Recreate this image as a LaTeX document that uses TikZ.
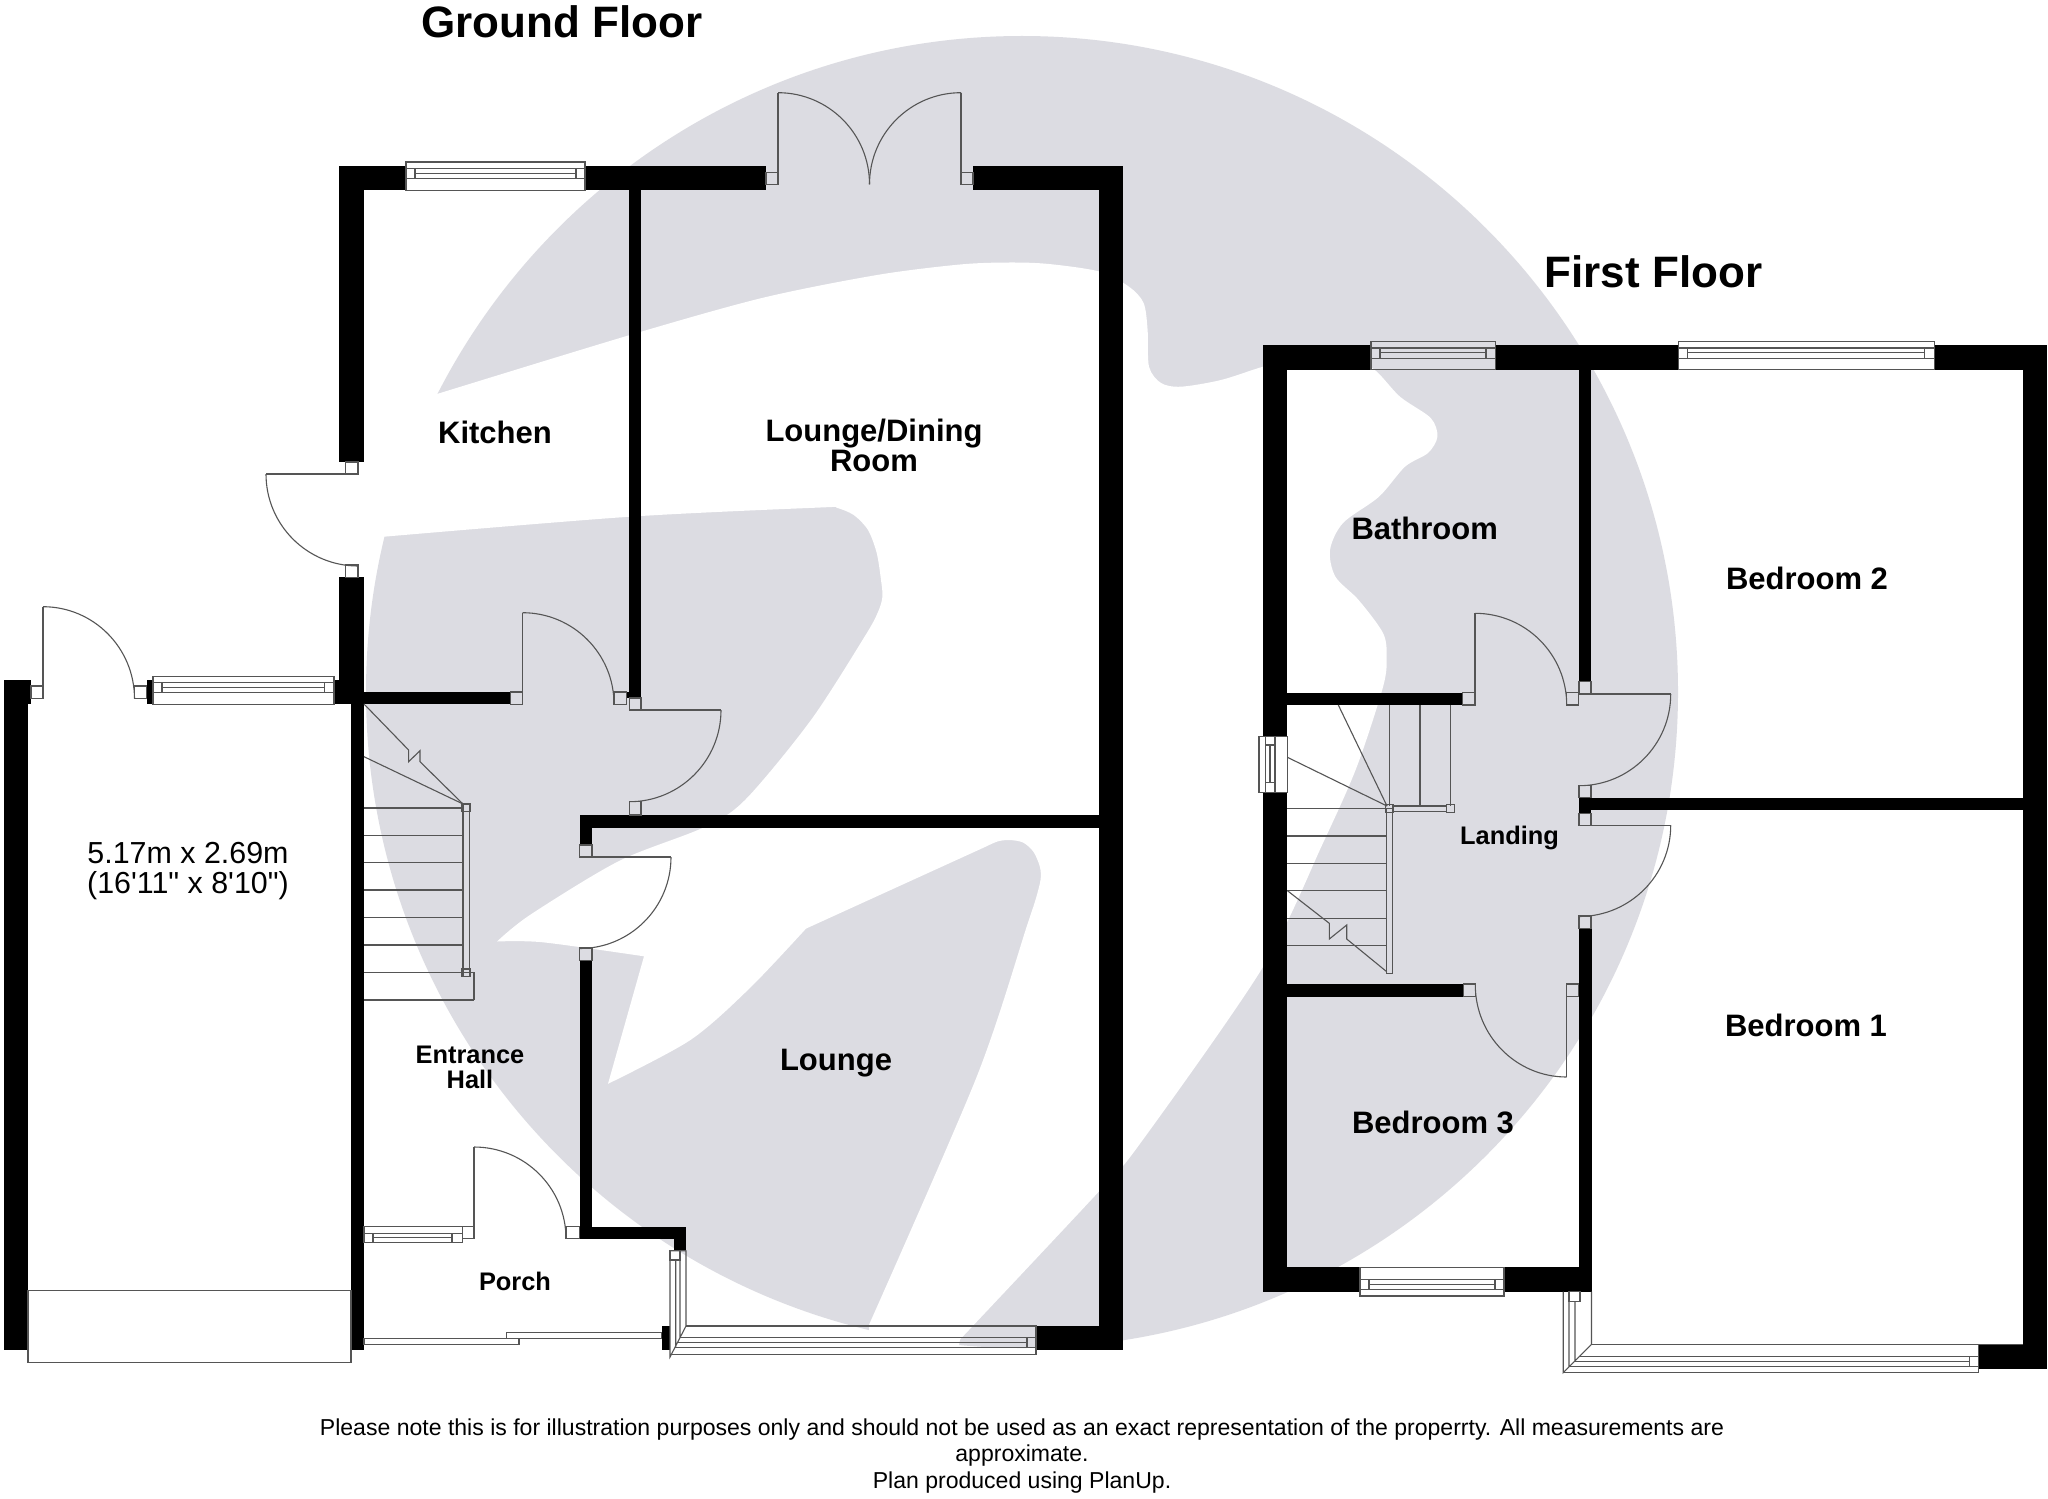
\documentclass[tikz,border=0pt]{standalone}
\usepackage{fontspec}
\setmainfont{Liberation Sans}
\newfontfamily\straightfam{Liberation Sans}[Ligatures=ResetAll]
\usetikzlibrary{calc}
\definecolor{bggray}{HTML}{DCDCE2}
\definecolor{ln}{HTML}{555555}
\tikzset{
  wall/.style={fill=black},
  thinl/.style={draw=ln,line width=0.55pt},
  lbl/.style={inner sep=0pt,align=center,text=black,font=\bfseries\fontsize{15.5}{15}\selectfont},
  lblsm/.style={inner sep=0pt,align=center,text=black,font=\bfseries\fontsize{12.7}{12.5}\selectfont},
  lblpl/.style={inner sep=0pt,align=center,text=black,font=\straightfam\fontsize{15.2}{15}\selectfont},
  title/.style={inner sep=0pt,text=black,font=\bfseries\fontsize{22}{22}\selectfont},
  foot/.style={inner sep=0pt,align=center,text=black,font=\fontsize{11.52}{13.4}\selectfont},
}
\newcommand\W[4]{\fill[wall] (#1,#2) rectangle (#3,#4);}
\newcommand\R[4]{\draw[thinl] (#1,#2) rectangle (#3,#4);}
\newcommand\Ln[4]{\draw[thinl] (#1,#2) -- (#3,#4);}
% door: A, corner C, B
\newcommand\Q[6]{\draw[thinl] (#1,#2) .. controls ($(#1,#2)!0.5523!(#3,#4)$) and ($(#5,#6)!0.5523!(#3,#4)$) .. (#5,#6);}
% horizontal window: x1 x2 ytop y1 ymid y3 ybot inset1 inset2
\newcommand\WinH[9]{\draw[thinl] (#1,#3) rectangle (#2,#7);\draw[thinl] (#1,#4) -- (#2,#4) (#1,#6) -- (#2,#6) (#8,#4) -- (#8,#6) (#9,#4) -- (#9,#6) (#8,#5) -- (#9,#5);}
\begin{document}
\begin{tikzpicture}[x=0.5pt,y=-0.5pt]
\useasboundingbox (0,0) rectangle (2048,1498);
\fill[white] (0,0) rectangle (2048,1498);
% background emblem
\fill[bggray] (1022,692) circle (656);
\fill[white]
  plot[smooth,tension=.5] coordinates {(437,394) (630,335) (762,298) (877,275) (960,264.5) (1009,262.5) (1049,264) (1100,271.7) (1129,286.7) (1143.6,303) (1147.6,330) (1149,366.7) (1161,383) (1181,386.7) (1221,380) (1263,366.7) (1300,358) (1345,356) (1374,369.3) (1400,396.7) (1430.7,418) (1437.4,436.7) (1428,453) (1405,466.7) (1379,496.7) (1343,523) (1330,550) (1335.4,576.7) (1358.6,600) (1383,633) (1386.7,657) (1383,687) (1356.7,767) (1323,843) (1263,967) (1140,1143.7) (1098.7,1191.7) (960,1339.5)}
  -- (950,1400) -- (870,1400) -- (869,1324.8)
  -- plot[smooth,tension=.5] coordinates {(869,1324.8) (976.6,1077) (1027,925.6) (1035.5,899.8) (1040.6,879.5) (1039.8,866.5) (1033.4,851.7) (1023,842.5) (1009.5,840) (997.7,841.4) (985,847)}
  -- (806,928.6)
  -- plot[smooth,tension=.5] coordinates {(806,928.6) (749.4,988.5) (690.4,1040) (608,1083.8)}
  -- (644,956.3)
  -- plot[smooth,tension=.5] coordinates {(644,956.3) (543,942.3) (497,941.5)}
  -- plot[smooth,tension=.5] coordinates {(497,941.5) (530.5,914.6) (619,861) (703,827.7) (745,800) (811,720) (865,636) (878,612) (882.4,596.7) (881,580) (876.7,553) (868,530) (853.7,515) (836.5,507.7) (825,507.3) (630,516.7) (384,536.7)}
  -- (300,545) -- (300,394) -- cycle;
% ===== ground floor walls
\W{339}{166}{406}{190.3}
\W{585}{166}{766}{190.3}
\W{973}{166}{1123}{190.3}
\W{339}{166}{364}{462}
\W{339}{577.3}{364}{704}
\W{334}{680}{339}{704}
\W{628.5}{190}{641}{698}
\W{627}{692}{630}{698}
\W{1098.7}{166}{1123}{1350}
\W{579.7}{815}{1098.7}{828}
\W{579.7}{815}{592}{845}
\W{579.7}{960.7}{592}{1238.7}
\W{579.7}{1226.7}{686.4}{1238.7}
\W{674}{1226.7}{686.4}{1250.7}
\W{364}{692}{510.6}{704}
\W{3.7}{680}{28}{1350}
\W{3.7}{680}{31}{704}
\W{146.5}{680}{153}{704}
\W{351}{704}{364}{1350}
\W{661.8}{1326}{670}{1350}
\W{1036}{1326}{1123}{1350}
% ground windows
\WinH{406}{585}{162}{168.3}{173.3}{178.7}{190.3}{415}{576}
\WinH{153}{334}{676.3}{682.3}{687.7}{692.7}{704.3}{162}{324.6}
\WinH{364}{462.4}{1226.7}{1233.3}{1237.7}{1242.3}{1242.3}{373}{452}
% ground doors
\Ln{778}{92.7}{778}{184.3} \Q{778}{92.7}{869.5}{92.7}{869.5}{184.3} \R{766}{172.3}{778}{184.3}
\Ln{961}{92.7}{961}{184.3} \Q{961}{92.7}{869.5}{92.7}{869.5}{184.3} \R{961}{172.3}{973}{184.3}
\Ln{266}{474}{358}{474} \Q{266}{474}{266}{566}{358}{566} \R{345.4}{462}{358}{474} \R{345.4}{565}{358}{577.3}
\Ln{43}{606.7}{43}{698.7} \Q{43}{606.7}{134.5}{606.7}{134.5}{698.7} \R{31}{686}{43}{698.7} \R{134.5}{686}{146.5}{698.7}
\Ln{522.5}{612.7}{522.5}{704} \Q{522.5}{612.7}{614}{612.7}{614}{704} \R{510.6}{692}{522.5}{704.3} \R{614}{692}{626.6}{704.3}
\Ln{629.5}{710}{721}{710} \Q{721}{710}{721}{801.7}{629.5}{801.7} \R{629.5}{698}{641}{710} \R{629.5}{801.7}{641}{815}
\Ln{579.7}{857}{671}{857} \Q{671}{857}{671}{948.5}{579.7}{948.5} \R{579.7}{845}{592}{857} \R{579.7}{948}{592}{960.7}
\Ln{474}{1147}{474}{1238.7} \Q{474}{1147}{566}{1147}{566}{1238.7} \R{462.4}{1226.7}{474}{1238.7} \R{566}{1226.7}{579.5}{1238.7}
% ground stairs
\foreach \y in {808,835.3,862.7,890,917.7,945,972.3,1000} {\Ln{364}{\y}{463}{\y}}
\Ln{463}{1000}{474}{1000} \Ln{463}{972.3}{474}{972.3} \Ln{474}{972.3}{474}{1000}
\R{463}{804}{469.7}{976.7} \R{462}{804}{470.6}{811.3} \R{462}{969}{470.6}{976.7}
\Ln{364}{756.7}{463}{804}
\draw[thinl] (364,704) -- (408.6,750) -- (408.6,761.7) -- (420,750.7) -- (420,761.7) -- (463,804);
% garage door
\R{28}{1290.3}{351}{1362.3}
% porch sliding doors
\R{364}{1338.3}{519}{1344.3} \R{506.4}{1332.3}{661.8}{1338.3}
% ground bay window
\draw[thinl] (670,1250.7) -- (686.4,1250.7) (670,1250.7) -- (670,1357) -- (686,1326) (686,1250.7) -- (686,1326) (675.7,1260) -- (675.7,1347.7) (680,1260) -- (680,1337.7);
\R{670}{1250.7}{680}{1260}
\draw[thinl] (686,1326) -- (1036,1326) -- (1036,1354.3) -- (671.4,1354.3);
\draw[thinl] (680,1337.7) -- (1036,1337.7) (677.5,1342.5) -- (1027,1342.5) (674.8,1347.7) -- (1036,1347.7) (1027,1337.7) -- (1027,1347.7);
% ===== first floor walls
\W{1263}{345.3}{1371}{370}
\W{1495.7}{345.3}{1678.7}{370}
\W{1934.3}{345.3}{2046.7}{370}
\W{1263}{345.3}{1287.4}{736.3}
\W{1263}{792.7}{1287.4}{1291.7}
\W{1578.7}{370}{1591.2}{681.7}
\W{2022.5}{345.3}{2046.7}{1369.3}
\W{1978.6}{1344.3}{2046.7}{1369.3}
\W{1287}{692.7}{1462.7}{705}
\W{1287}{984}{1463.3}{996.7}
\W{1579}{797.7}{2022.5}{810.3}
\W{1579}{810.3}{1591}{813.3}
\W{1579}{928.3}{1591.5}{1291.7}
\W{1263}{1267.3}{1360}{1291.7}
\W{1504}{1267.3}{1591.5}{1291.7}
% first windows
\WinH{1371}{1495.7}{341.3}{348}{352.7}{358.3}{369.3}{1380}{1486}
\WinH{1678.7}{1934.3}{341.3}{348}{352.7}{358.3}{369.3}{1687.4}{1924.6}
\WinH{1360}{1504}{1267.3}{1279.3}{1284.3}{1289.3}{1296}{1369}{1495}
\draw[thinl] (1259,736.3) rectangle (1287.3,792.7) (1265.3,736.3) -- (1265.3,792.7) (1275,736.3) -- (1275,792.7) (1265.3,745) -- (1275,745) (1265.3,782.7) -- (1275,782.7) (1270,745) -- (1270,782.7);
% first doors
\Ln{1475}{613.3}{1475}{705} \Q{1475}{613.3}{1566.7}{613.3}{1566.7}{705} \R{1462.7}{692.7}{1475}{705} \R{1566.7}{692.7}{1578.7}{705}
\Ln{1579}{694}{1670.7}{694} \Q{1670.7}{694}{1670.7}{785.7}{1579}{785.7} \R{1579}{681.7}{1591}{694} \R{1579}{785.7}{1591}{797.7}
\Ln{1579}{825.3}{1670.7}{825.3} \Q{1670.7}{825.3}{1670.7}{916.5}{1579}{916.5} \R{1579}{813.3}{1591}{825.3} \R{1579}{916}{1591}{928.3}
\Ln{1566.7}{985}{1566.7}{1077} \Q{1475.3}{985}{1475.3}{1077}{1566.7}{1077} \R{1463.3}{984}{1475.3}{996.7} \R{1566.7}{984}{1578.7}{996.7}
% first stairs
\foreach \y in {808.3,836,863.3,890.7,918.3,945.7} {\Ln{1287.4}{\y}{1386.7}{\y}}
\foreach \x in {1389.7,1420,1450.3} {\Ln{\x}{705}{\x}{806}}
\R{1386.7}{808.3}{1392.7}{973.3} \R{1392.7}{806}{1446.7}{811.3}
\R{1385.7}{804.3}{1393.3}{812.3} \R{1446.7}{804.3}{1454.3}{812.3}
\Ln{1338.3}{705}{1387}{806} \Ln{1287.4}{757.3}{1387}{806}
\draw[thinl] (1287.4,890.7) -- (1329.3,923.3) -- (1329.3,939) -- (1346.7,925) -- (1346.7,939) -- (1386.7,971.7);
% first bay window
\draw[thinl] (1563.2,1291.7) -- (1563.2,1372.7) -- (1591.5,1344.3) -- (1591.5,1291.7) (1569,1301.7) -- (1569,1366.7) (1575,1301.7) -- (1575,1361.7);
\R{1569}{1291.7}{1580}{1301.7}
\draw[thinl] (1591.5,1344.3) -- (2022.5,1344.3) (1978.6,1344.3) -- (1978.6,1372.7) -- (1563.2,1372.7);
\draw[thinl] (1579,1356.7) -- (1978.6,1356.7) (1574,1361.7) -- (1969.3,1361.7) (1569,1366.7) -- (1978.6,1366.7) (1969.3,1356.7) -- (1969.3,1366.7);
% ===== labels
\node[title] (tg) at (561.6,22) {Ground Floor};
\node[title] (tf) at (1653.5,272) {First Floor};
\node[lbl] (kit) at (495,432.5) {Kitchen};
\node[lbl] (ldr) at (874,445) {Lounge/Dining\\Room};
\node[lbl] (lou) at (836,1063) {Lounge};
\node[lblsm] (hall) at (470,1067) {Entrance\\Hall};
\node[lblsm] (por) at (515,1281) {Porch};
\node[lblpl] (gar) at (188,871.5) {5.17m x 2.69m\\(16'11" x 8'10")};
\node[lbl] (bath) at (1424.7,528) {Bathroom};
\node[lbl] (bed2) at (1807,578) {Bedroom 2};
\node[lbl] (bed1) at (1806,1025) {Bedroom 1};
\node[lbl] (bed3) at (1433,1122) {Bedroom 3};
\node[lblsm] (land) at (1509.5,837.5) {Landing};
\node[foot] (note) at (1022,1456) {Please note this is for illustration purposes only and should not be used as an exact representation of the properrty. All measurements are\\approximate.\\Plan produced using PlanUp.};
\end{tikzpicture}
\end{document}
